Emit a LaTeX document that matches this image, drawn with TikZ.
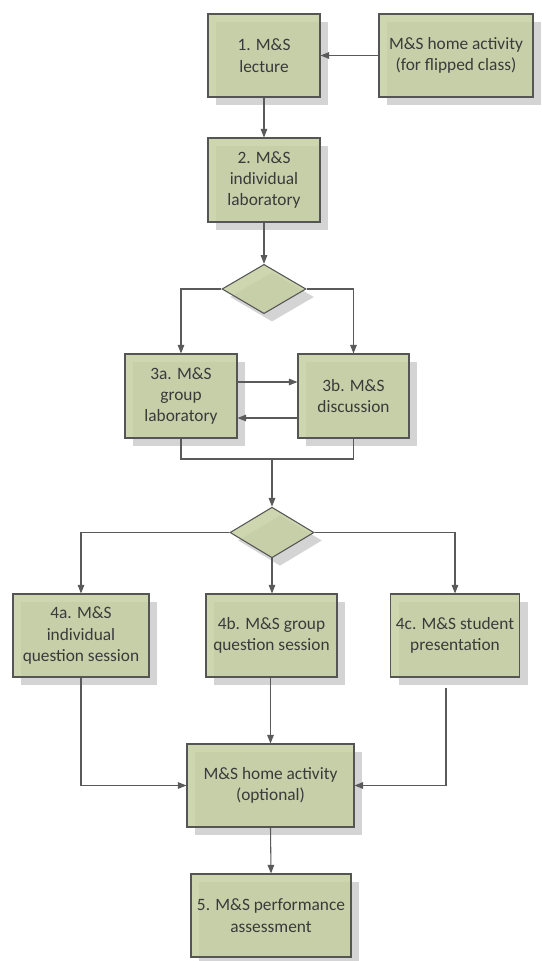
\documentclass[tikz,border=0pt]{standalone}
\usepackage{fontspec}
\setmainfont{Carlito}
\usetikzlibrary{arrows.meta,shapes.geometric,shadows,calc}
\definecolor{boxfill}{HTML}{C6CFA2}
\definecolor{boxline}{HTML}{555555}
\definecolor{txt}{HTML}{3A3A3A}
\definecolor{conn}{HTML}{5A5A5A}
\tikzset{
  shad/.style={drop shadow={shadow xshift=6pt,shadow yshift=-6pt,fill=black!17,opacity=1}},
  stepbox/.style={rectangle,draw=boxline,line width=0.8pt,fill=boxfill,fill opacity=0.86,text opacity=1,
    text=txt,align=center,inner sep=1pt,minimum height=62.25pt,
    font=\fontsize{13pt}{16pt}\selectfont,shad},
  decide/.style={diamond,draw=boxline,line width=0.8pt,fill=boxfill,fill opacity=0.86,inner sep=0pt,
    minimum width=63pt,minimum height=37pt,shad},
  arr/.style={draw=conn,line width=0.8pt,-{Triangle[length=6.5pt,width=5pt]}},
  ln/.style={draw=conn,line width=0.8pt},
}
\begin{document}
\begin{tikzpicture}[x=0.75pt,y=-0.75pt]
\useasboundingbox (0,0) rectangle (542,961);
% nodes
\node[stepbox,minimum width=84pt] (b1) at (264,55.5) {1. M\&S\\lecture};
\node[stepbox,minimum width=115.5pt] (h1) at (456,55.5) {M\&S home activity\\(for flipped class)};
\node[stepbox,minimum width=84pt,minimum height=63pt] (b2) at (264,180) {2. M\&S\\individual\\laboratory};
\node[decide] (d1) at (264,289) {};
\node[stepbox,minimum width=84pt,minimum height=63pt] (b3a) at (181,396) {3a. M\&S\\group\\laboratory};
\node[stepbox,minimum width=83.25pt,minimum height=63pt] (b3b) at (353.5,396) {3b. M\&S\\discussion};
\node[decide,minimum height=38pt] (d2) at (272,532.5) {};
\node[stepbox,minimum width=102pt] (b4a) at (81,635.5) {4a. M\&S\\individual\\question session};
\node[stepbox,minimum width=98.25pt] (b4b) at (271.5,635.5) {4b. M\&S group\\question session};
\node[stepbox,minimum width=96.75pt] (b4c) at (455,635.5) {4c. M\&S student\\presentation};
\node[stepbox,minimum width=125.25pt] (h2) at (270.5,785.5) {M\&S home activity\\(optional)};
\node[stepbox,minimum width=120pt] (b5) at (271,915.5) {5. M\&S performance\\assessment};
\coordinate (j) at (272,459);
\coordinate (c4c) at (446,688);
% connectors
\draw[arr] (h1.west) -- (b1.east);
\draw[arr] (b1.south) -- (b2.north);
\draw[arr] (b2.south) -- (d1.north);
\draw[arr] (d1.west) -| (b3a.north);
\draw[arr] (d1.east) -| (b3b.north);
\draw[arr] ($(b3a.east)+(0,-14)$) -- ($(b3b.west)+(0,-14)$);
\draw[arr] ($(b3b.west)+(0,22)$) -- ($(b3a.east)+(0,22)$);
\draw[ln] (b3a.south) |- (j) -| (b3b.south);
\draw[arr] (j) -- (d2.north);
\draw[arr] (d2.west) -| (b4a.north);
\draw[arr] (d2.south) -- (d2.south |- b4b.north);
\draw[arr] (d2.east) -| (b4c.north);
\draw[arr] (b4a.south) |- (h2.west);
\draw[arr] (b4b.south -| h2.north) -- (h2.north);
\draw[arr] (c4c) |- (h2.east);
\draw[arr] (h2.south) -- (b5.north);
\end{tikzpicture}
\end{document}
